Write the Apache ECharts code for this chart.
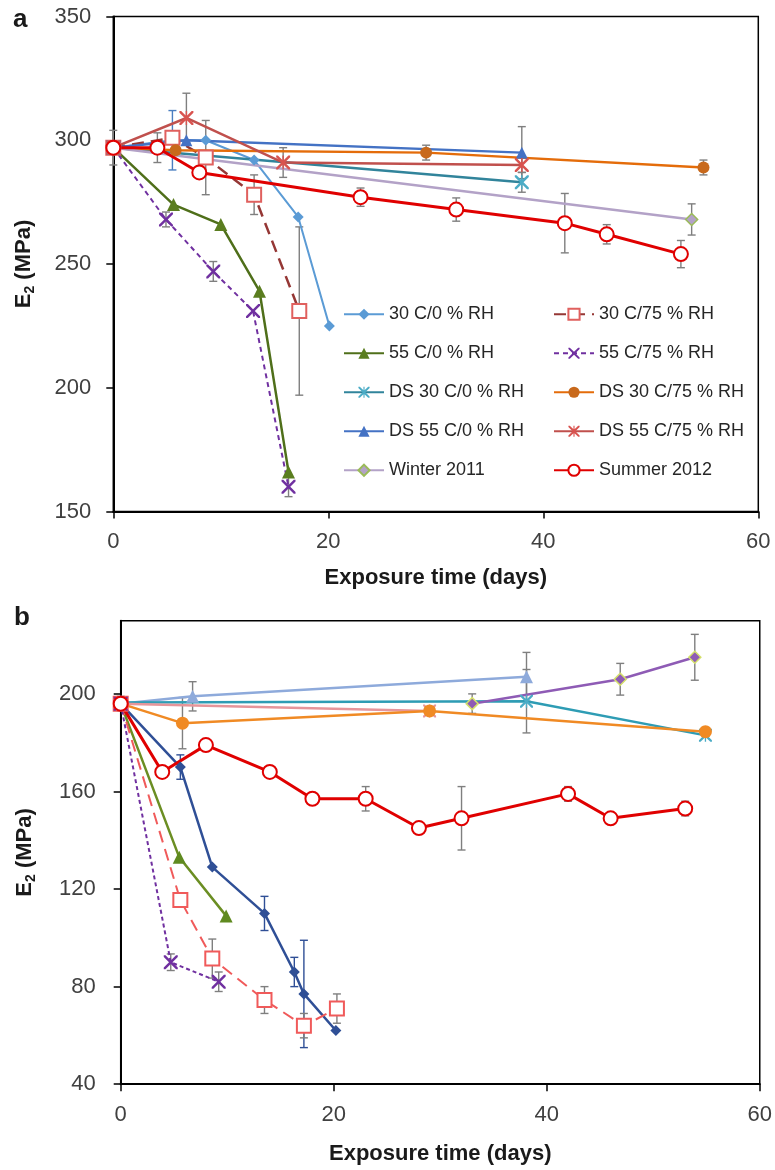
<!DOCTYPE html>
<html>
<head>
<meta charset="utf-8">
<script src="https://cdn.jsdelivr.net/npm/echarts@6/dist/echarts.min.js"></script>
<style>
  html, body { margin: 0; padding: 0; background: #fff; }
  #chart { width: 775px; height: 1170px; }
</style>
</head>
<body>
<div id="chart"></div>
<script>
// ---- Axis ticks ----
const xTicks = [0, 20, 40, 60];
const aYTicks = [150, 200, 250, 300, 350];
const bYTicks = [40, 80, 120, 160, 200];

// ---- Panel a: E2 (MPa) vs exposure time (days) ----
const a30C0 = [[0, 297], [5.5, 300], [8.6, 300], [13.1, 292], [17.2, 269], [20.1, 225]];
const a30C0Err = [[5.5, 12]];
const a30C75 = [[0, 297], [5.5, 301], [8.6, 293], [13.1, 278], [17.3, 231]];
const a30C75Err = [[8.6, 15], [13.1, 8], [17.3, 34]];
const a55C0 = [[0, 297], [5.6, 274], [10, 266], [13.6, 239], [16.3, 166]];
const a55C0Err = [];
const a55C75 = [[0, 297], [4.9, 268], [9.3, 247], [13, 231], [16.3, 160]];
const a55C75Err = [[4.9, 3], [9.3, 4], [16.3, 4]];
const aDS30C0 = [[0, 297], [38, 283]];
const aDS30C0Err = [[38, 4]];
const aDS30C75 = [[0, 297], [5.8, 296], [29.1, 295], [54.9, 289]];
const aDS30C75Err = [[29.1, 3], [54.9, 3]];
const aDS55C0 = [[0, 297], [6.8, 300], [38, 295]];
const aDS55C0Err = [[38, 10.5]];
const aDS55C75 = [[0, 297], [6.8, 309], [15.8, 291], [38, 290]];
const aDS55C75Err = [[6.8, 10], [15.8, 6], [38, 3]];
const aWinter = [[0, 297], [53.8, 268]];
const aWinterErr = [[53.8, 6.3]];
const aSummer = [[0, 297], [4.1, 297], [8, 287], [23, 277], [31.9, 272], [42, 266.5], [45.9, 262], [52.8, 254]];
const aSummerErr = [[0, 7], [4.1, 6], [23, 3.7], [31.9, 4.7], [42, 12], [45.9, 3.9], [52.8, 5.5]];

// ---- Panel b ----
const b30C0 = [[0, 196], [5.6, 170], [8.6, 129], [13.5, 110], [16.3, 86], [17.2, 77], [20.2, 62]];
const b30C0Err = [[5.6, 5], [13.5, 7], [16.3, 6], [17.2, 22]];
const b30C75 = [[0, 196], [5.6, 115.5], [8.6, 91.5], [13.5, 74.5], [17.2, 64], [20.3, 71]];
const b30C75Err = [[8.6, 8], [13.5, 5.5], [17.2, 5], [20.3, 6]];
const b55C0 = [[0, 196], [5.5, 133], [9.9, 109]];
const b55C0Err = [];
const b55C75 = [[0, 196], [4.7, 90], [9.2, 82]];
const b55C75Err = [[4.7, 3.4], [9.2, 4]];
const bDS30C0 = [[0, 196.5], [38.1, 197], [54.9, 183]];
const bDS30C0Err = [[38.1, 13]];
const bDS30C75 = [[0, 196], [5.8, 188], [29, 193], [54.9, 184.5]];
const bDS30C75Err = [[5.8, 10.5]];
const bDS55C0 = [[0, 196], [6.75, 199], [38.1, 207]];
const bDS55C0Err = [[6.75, 6], [38.1, 10]];
const bDS55C75 = [[0, 196], [29, 193]];
const bDS55C75Err = [];
const bWinter = [[33, 196], [46.9, 206], [53.9, 215]];
const bWinterErr = [[33, 4], [46.9, 6.5], [53.9, 9.4]];
const bSummer = [[0, 196], [3.9, 168], [8, 179], [14, 168], [18, 157], [23, 157], [28, 145], [32, 149], [42, 159], [46, 149], [53, 153]];
const bSummerErr = [[0, 3], [23, 5], [32, 13], [42, 3], [53, 3]];

// ---- Legend layout (two columns) ----
const legendLeft = ['30 C/0 % RH', '55 C/0 % RH', 'DS 30 C/0 % RH', 'DS 55 C/0 % RH', 'Winter 2011'];
const legendRight = ['30 C/75 % RH', '55 C/75 % RH', 'DS 30 C/75 % RH', 'DS 55 C/75 % RH', 'Summer 2012'];

// Marker shapes
const CROSS = 'path://M0,0 L2.5,0 L10,7.5 L17.5,0 L20,0 L20,2.5 L12.5,10 L20,17.5 L20,20 L17.5,20 L10,12.5 L2.5,20 L0,20 L0,17.5 L7.5,10 L0,2.5 Z';
const ASTER = CROSS + ' M9,0 L11,0 L11,20 L9,20 Z';

const FONT = '"Liberation Sans", Arial, Helvetica, sans-serif';
const GREY = '#7f7f7f';

const styleA = [
  { name: '30 C/0 % RH', data: a30C0, err: a30C0Err, color: '#5b9bd5', symbol: 'diamond', size: 11, width: 2, errColor: '#4a7ec0' },
  { name: '30 C/75 % RH', data: a30C75, err: a30C75Err, color: '#953735', dash: [12, 7], mColor: '#e0605e', symbol: 'emptyRect', size: 14, width: 2.5 },
  { name: '55 C/0 % RH', data: a55C0, err: a55C0Err, color: '#4f6f1a', mColor: '#5a7d1f', symbol: 'triangle', size: 13, width: 2.5 },
  { name: '55 C/75 % RH', data: a55C75, err: a55C75Err, color: '#7030a0', dash: [5, 4], symbol: CROSS, size: 14, width: 2 },
  { name: 'DS 30 C/0 % RH', data: aDS30C0, err: aDS30C0Err, color: '#31849b', mColor: '#4bacc6', symbol: ASTER, size: 14, width: 2.5 },
  { name: 'DS 30 C/75 % RH', data: aDS30C75, err: aDS30C75Err, color: '#e46c0a', mColor: '#c8691c', symbol: 'circle', size: 12, width: 2.5 },
  { name: 'DS 55 C/0 % RH', data: aDS55C0, err: aDS55C0Err, color: '#4472c4', symbol: 'triangle', size: 12, width: 2.5 },
  { name: 'DS 55 C/75 % RH', data: aDS55C75, err: aDS55C75Err, color: '#c0504d', mColor: '#d9534f', symbol: ASTER, size: 14, width: 2.5 },
  { name: 'Winter 2011', data: aWinter, err: aWinterErr, color: '#b3a2c7', mBorder: '#9bbb59', symbol: 'diamond', size: 12, width: 2.5 },
  { name: 'Summer 2012', data: aSummer, err: aSummerErr, color: '#e00000', symbol: 'emptyCircle', size: 14, width: 3 }
];

const styleB = [
  { name: 'DS 55 C/0 % RH ', data: bDS55C0, err: bDS55C0Err, color: '#8eaadb', symbol: 'triangle', size: 13, width: 2.5 },
  { name: 'DS 30 C/0 % RH ', data: bDS30C0, err: bDS30C0Err, color: '#2e9cb4', mColor: '#4bacc6', symbol: ASTER, size: 13, width: 2.5 },
  { name: 'DS 55 C/75 % RH ', data: bDS55C75, err: bDS55C75Err, color: '#e6959a', symbol: ASTER, size: 13, width: 2.5 },
  { name: 'DS 30 C/75 % RH ', data: bDS30C75, err: bDS30C75Err, color: '#f08a24', symbol: 'circle', size: 13, width: 2.5 },
  { name: 'Winter 2011 ', data: bWinter, err: bWinterErr, color: '#8e5bb5', mBorder: '#d4e06b', symbol: 'diamond', size: 12, width: 2.5 },
  { name: '30 C/0 % RH ', data: b30C0, err: b30C0Err, color: '#2f4f96', symbol: 'diamond', size: 11, width: 2.5, errColor: '#2f4f96' },
  { name: '55 C/0 % RH ', data: b55C0, err: b55C0Err, color: '#6b8e23', mColor: '#5f8a1f', symbol: 'triangle', size: 13, width: 2.5 },
  { name: '30 C/75 % RH ', data: b30C75, err: b30C75Err, color: '#f05a5a', dash: [12, 7], symbol: 'emptyRect', size: 14, width: 2 },
  { name: '55 C/75 % RH ', data: b55C75, err: b55C75Err, color: '#7030a0', dash: [4, 3], symbol: CROSS, size: 14, width: 2 },
  { name: 'Summer 2012 ', data: bSummer, err: bSummerErr, color: '#e00000', symbol: 'emptyCircle', size: 14, width: 3 }
];

function lineSeries(s, gi) {
  const empty = typeof s.symbol === 'string' && s.symbol.indexOf('empty') === 0;
  return {
    type: 'line', name: s.name, xAxisIndex: gi, yAxisIndex: gi, data: s.data,
    symbol: s.symbol, symbolSize: s.size, showSymbol: true, showAllSymbol: true,
    animation: false, z: 3, clip: false,
    lineStyle: { color: s.color, width: s.width, type: s.dash || 'solid', cap: 'butt' },
    itemStyle: {
      color: s.mColor || s.color,
      borderColor: s.mBorder || s.mColor || s.color,
      borderWidth: empty ? 2 : (s.mBorder ? 1.5 : 0)
    },
    emphasis: { disabled: true }
  };
}

function errorSeries(s, gi) {
  const pts = s.err.map(([x, e]) => {
    const p = s.data.find(d => d[0] === x);
    return [x, p[1], e];
  });
  const col = s.errColor || GREY;
  return {
    type: 'custom', xAxisIndex: gi, yAxisIndex: gi, data: pts, z: 2, silent: true, animation: false,
    encode: { x: 0, y: 1 },
    renderItem: (params, api) => {
      const x = api.value(0), y = api.value(1), e = api.value(2);
      const t = api.coord([x, y + e]);
      const b = api.coord([x, y - e]);
      const w = 4;
      const st = { stroke: col, lineWidth: 1.4, fill: null };
      return {
        type: 'group', children: [
          { type: 'line', shape: { x1: t[0], y1: t[1], x2: b[0], y2: b[1] }, style: st },
          { type: 'line', shape: { x1: t[0] - w, y1: t[1], x2: t[0] + w, y2: t[1] }, style: st },
          { type: 'line', shape: { x1: b[0] - w, y1: b[1], x2: b[0] + w, y2: b[1] }, style: st }
        ]
      };
    }
  };
}

const series = [];
styleA.forEach(s => series.push(errorSeries(s, 0)));
styleB.forEach(s => series.push(errorSeries(s, 1)));
styleA.forEach(s => series.push(lineSeries(s, 0)));
styleB.forEach(s => series.push(lineSeries(s, 1)));

const axisLine = { onZero: false, lineStyle: { color: '#000', width: 2 } };
const axisTick = { length: 7, lineStyle: { color: '#000', width: 1.5 } };
const labelStyle = { fontSize: 22, color: '#404040', fontFamily: FONT };
const nameStyle = { fontSize: 22, fontWeight: 'bold', color: '#1a1a1a', fontFamily: FONT };
const yName = '{m|E}{s|2}{m| (MPa)}';
const yRich = {
  m: { fontSize: 22, fontWeight: 'bold', color: '#1a1a1a', fontFamily: FONT, lineHeight: 26 },
  s: { fontSize: 14, fontWeight: 'bold', color: '#1a1a1a', fontFamily: FONT, lineHeight: 14, verticalAlign: 'bottom' }
};

function legend(names, left) {
  return {
    data: names, orient: 'vertical', left: left, top: 300,
    itemWidth: 40, itemHeight: 14, itemGap: 20.5,
    textStyle: { fontSize: 18, color: '#262626', fontFamily: FONT, lineHeight: 18.5 },
    selectedMode: false
  };
}

const chart = echarts.init(document.getElementById('chart'), null, { renderer: 'canvas' });
chart.setOption({
  backgroundColor: '#fff',
  animation: false,
  title: [
    { text: 'a', left: 8, top: 2, textStyle: { fontSize: 26, fontWeight: 'bold', color: '#1a1a1a', fontFamily: FONT } },
    { text: 'b', left: 9, top: 600, textStyle: { fontSize: 26, fontWeight: 'bold', color: '#1a1a1a', fontFamily: FONT } }
  ],
  legend: [legend(legendLeft, 338), legend(legendRight, 548)],
  grid: [
    { left: 113.3, top: 16.5, width: 645, height: 495, show: true, borderColor: '#000', borderWidth: 1.5 },
    { left: 120.7, top: 620.7, width: 640, height: 463.5, show: true, borderColor: '#000', borderWidth: 1.5 }
  ],
  xAxis: [
    {
      type: 'value', gridIndex: 0, min: 0, max: 60, interval: 20,
      axisLine, axisTick: Object.assign({ customValues: xTicks }, axisTick),
      axisLabel: Object.assign({ margin: 19, customValues: xTicks }, labelStyle),
      splitLine: { show: false },
      name: 'Exposure time (days)', nameLocation: 'middle', nameGap: 55, nameTextStyle: nameStyle
    },
    {
      type: 'value', gridIndex: 1, min: 0, max: 60, interval: 20,
      axisLine, axisTick: Object.assign({ customValues: xTicks }, axisTick),
      axisLabel: Object.assign({ margin: 20, customValues: xTicks }, labelStyle),
      splitLine: { show: false },
      name: 'Exposure time (days)', nameLocation: 'middle', nameGap: 59, nameTextStyle: nameStyle
    }
  ],
  yAxis: [
    {
      type: 'value', gridIndex: 0, min: 150, max: 350, interval: 50,
      axisLine, axisTick: Object.assign({ customValues: aYTicks }, axisTick),
      axisLabel: Object.assign({ margin: 22, customValues: aYTicks }, labelStyle),
      splitLine: { show: false },
      name: yName, nameLocation: 'middle', nameGap: 76, nameRotate: 90,
      nameTextStyle: { rich: yRich }
    },
    {
      type: 'value', gridIndex: 1, min: 40, max: 230, interval: 40,
      axisLine, axisTick: Object.assign({ customValues: bYTicks }, axisTick),
      axisLabel: Object.assign({ margin: 25, customValues: bYTicks }, labelStyle),
      splitLine: { show: false },
      name: yName, nameLocation: 'middle', nameGap: 83, nameRotate: 90,
      nameTextStyle: { rich: yRich }
    }
  ],
  series: series
});
</script>
</body>
</html>
